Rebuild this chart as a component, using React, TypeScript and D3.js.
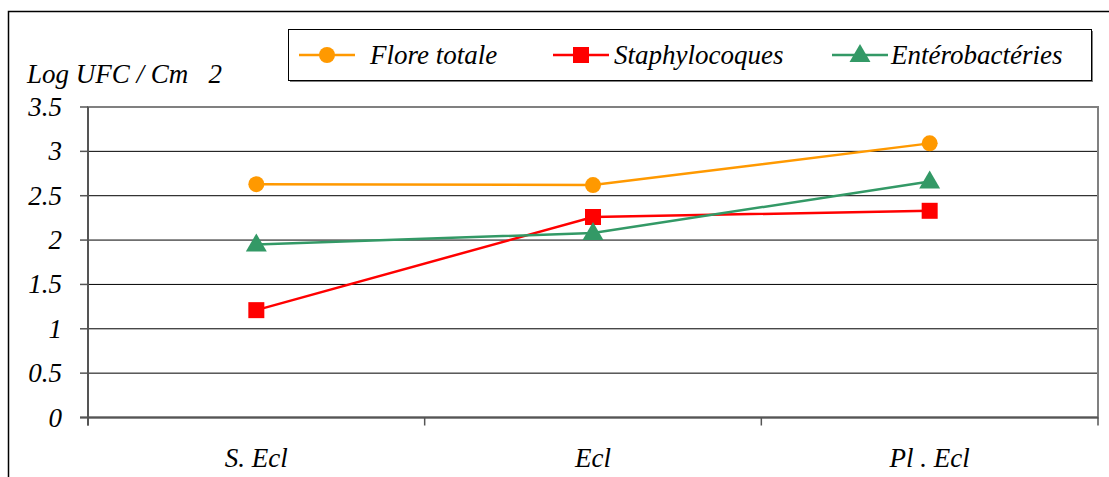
import React from 'react';
import * as d3 from 'd3';

const categories = ['S. Ecl', 'Ecl', 'Pl . Ecl'];
const floreTotale = [2.63, 2.62, 3.09];
const staphylocoques = [1.21, 2.26, 2.33];
const enterobacteries = [1.95, 2.08, 2.66];
const yTicks = [0, 0.5, 1, 1.5, 2, 2.5, 3, 3.5];

const series = [
  { name: 'Flore totale', values: floreTotale, color: '#FF9900', marker: 'circle' },
  { name: 'Staphylocoques', values: staphylocoques, color: '#FF0000', marker: 'square' },
  { name: 'Entérobactéries', values: enterobacteries, color: '#339966', marker: 'triangle' },
];

const width = 1109;
const height = 477;
const plot = { left: 88, top: 107, right: 1098, bottom: 417.5 };

const Label = (props: React.SVGProps<SVGTextElement>) => (
  <text {...props}
    style={{ fontFamily: "'Tinos', 'Liberation Serif', 'Times New Roman', 'FreeSerif', serif", fontStyle: 'italic', fontSize: '27px' }} />
);

const Marker = ({ type, x, y, color }: { type: string; x: number; y: number; color: string }) => {
  if (type === 'circle') return <circle cx={x} cy={y} r={8} fill={color} />;
  if (type === 'square') return <rect x={x - 8} y={y - 8} width={16} height={16} fill={color} />;
  const sym = d3.symbol().type(d3.symbolTriangle).size(190)();
  return <path d={sym || ''} transform={`translate(${x},${y + 1})`} fill={color} />;
};

const App: React.FC = () => {
  const x = d3.scaleBand().domain(categories).range([plot.left, plot.right]);
  const y = d3.scaleLinear().domain([0, 3.5]).range([plot.bottom, plot.top]);
  const cx = (c: string) => (x(c) || 0) + x.bandwidth() / 2;

  const line = d3.line<number>()
    .x((_, i) => cx(categories[i]))
    .y(d => y(d));

  const xBounds = [plot.left, ...categories.map(c => (x(c) || 0) + x.bandwidth())];

  // legend layout
  const legendItems = [
    { lineX: 299, textX: 370 },
    { lineX: 553, textX: 614 },
    { lineX: 832, textX: 891 },
  ];

  return (
    <svg width={width} height={height} style={{ position: 'absolute', left: 0, top: 0 }}>
      <rect x={0} y={0} width={width} height={height} fill="#fff" />
      <rect x={8.5} y={11.5} width={1120} height={500} fill="none" stroke="#000" strokeWidth={1.5} />

      {/* gridlines */}
      {yTicks.slice(1).map(t => (
        <line key={t} x1={plot.left} x2={plot.right} y1={y(t)} y2={y(t)} stroke="#000" strokeWidth={1} />
      ))}
      {/* plot frame */}
      <rect x={plot.left} y={plot.top} width={plot.right - plot.left} height={plot.bottom - plot.top}
        fill="none" stroke="#808080" strokeWidth={2} />
      {/* axes */}
      <line x1={plot.left} x2={plot.left} y1={plot.top} y2={plot.bottom + 8} stroke="#555" strokeWidth={2} />
      <line x1={plot.left - 8} x2={plot.right} y1={plot.bottom} y2={plot.bottom} stroke="#555" strokeWidth={2} />
      {yTicks.map(t => (
        <g key={t}>
          <line x1={plot.left - 8} x2={plot.left} y1={y(t)} y2={y(t)} stroke="#555" strokeWidth={1.5} />
          <Label x={62} y={y(t) + 9} textAnchor="end">{t}</Label>
        </g>
      ))}
      {xBounds.map((b, i) => (
        <line key={i} x1={b} x2={b} y1={plot.bottom} y2={plot.bottom + 8} stroke="#555" strokeWidth={1.5} />
      ))}
      {categories.map(c => (
        <Label key={c} x={cx(c)} y={467} textAnchor="middle">{c}</Label>
      ))}

      <Label x={27} y={83}>{'Log UFC / Cm\u00a0\u00a0\u00a02'}</Label>

      {/* series */}
      {series.map(s => (
        <g key={s.name}>
          <path d={line(s.values) || ''} fill="none" stroke={s.color} strokeWidth={2.5} />
          {s.values.map((v, i) => (
            <Marker key={i} type={s.marker} x={cx(categories[i])} y={y(v)} color={s.color} />
          ))}
        </g>
      ))}

      {/* legend */}
      <rect x={290} y={31} width={803} height={51} fill="#808080" />
      <rect x={288.5} y={29.5} width={803} height={51} fill="#fff" stroke="#000" strokeWidth={1} />
      {series.map((s, i) => (
        <g key={s.name}>
          <line x1={legendItems[i].lineX} x2={legendItems[i].lineX + 56} y1={55} y2={55} stroke={s.color} strokeWidth={2.5} />
          <Marker type={s.marker} x={legendItems[i].lineX + 28} y={55} color={s.color} />
          <Label x={legendItems[i].textX} y={64}>{s.name}</Label>
        </g>
      ))}
    </svg>
  );
};

export default App;
